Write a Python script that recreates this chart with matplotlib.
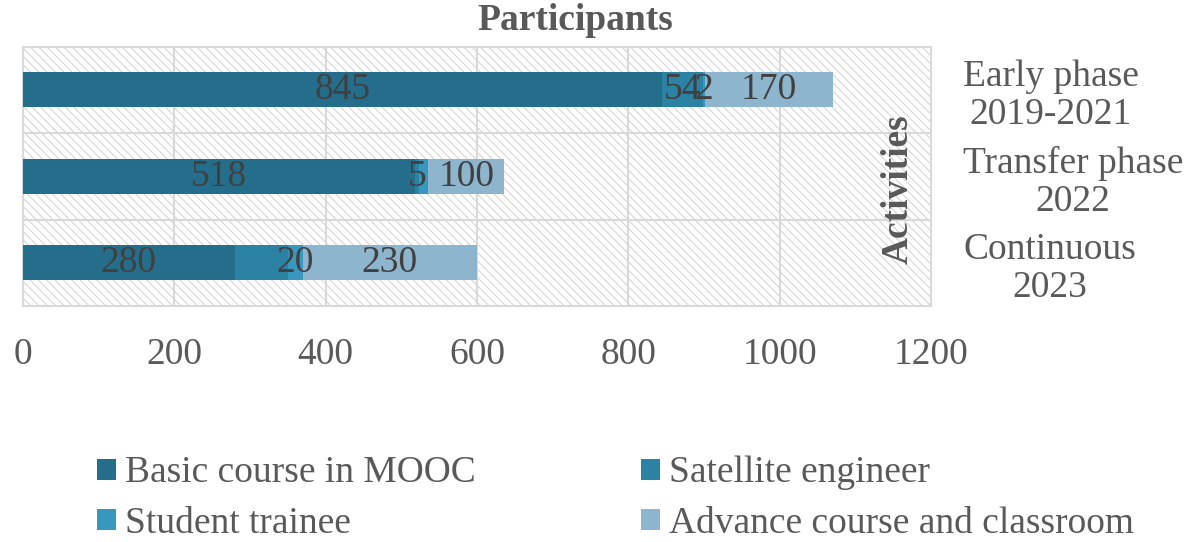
import matplotlib
matplotlib.use("Agg")
import matplotlib.pyplot as plt
from matplotlib.patches import Patch
import numpy as np

# participants per activity phase
phases = ["Early phase\n2019-2021", "Transfer phase\n2022", "Continuous\n2023"]
series_names = ["Basic course in MOOC", "Satellite engineer",
                "Student trainee", "Advance course and classroom"]
basic_mooc = [845, 518, 280]
satellite_eng = [54, 5, 70]
student_trainee = [2, 13, 20]
advance_course = [170, 100, 230]
# which segments carry a value label
show_label = [[True, True, True],
              [True, True, False],
              [True, False, True],
              [True, True, True]]
x_ticks = [0, 200, 400, 600, 800, 1000, 1200]

colors = ["#256E8B", "#2C82A3", "#3797BE", "#8DB5CE"]
text_grey = "#595959"
grid_grey = "#D9D9D9"

plt.rcParams["font.family"] = ["Liberation Serif", "DejaVu Serif"]
plt.rcParams["hatch.color"] = "#D0D0D0"
plt.rcParams["hatch.linewidth"] = 0.7

fig = plt.figure(figsize=(11.89, 5.42), dpi=100)
ax = fig.add_axes([0.0191, 0.4354, 0.7640, 0.4788])

# hatched plot area
ax.patch.set_facecolor("white")
ax.patch.set_hatch("\\\\\\\\")
ax.patch.set_edgecolor("#D0D0D0")

ypos = np.arange(len(phases))[::-1]
series = [basic_mooc, satellite_eng, student_trainee, advance_course]
left = np.zeros(len(phases))
for vals, col, flags in zip(series, colors, show_label):
    vals = np.array(vals, dtype=float)
    ax.barh(ypos, vals, left=left, height=0.4, color=col, zorder=3)
    for y, l, v, f in zip(ypos, left, vals, flags):
        if f:
            ax.text(l + v / 2, y, "%d" % v, ha="center", va="center",
                    fontsize=27, color="#404040", zorder=4)
    left += vals

ax.set_xlim(0, 1200)
ax.set_ylim(-0.5, 2.5)
ax.set_xticks(x_ticks)
ax.set_xticklabels([str(t) for t in x_ticks])
ax.grid(axis="x", color=grid_grey, linewidth=1.5, zorder=1)
for yb in [0.5, 1.5]:
    ax.axhline(yb, color=grid_grey, linewidth=1.5, zorder=1)
for s in ax.spines.values():
    s.set_color(grid_grey)
    s.set_linewidth(1.5)

ax.tick_params(axis="x", length=0, pad=23, labelsize=27, labelcolor=text_grey)
ax.yaxis.tick_right()
ax.set_yticks(ypos)
ax.set_yticklabels(phases, ha="left", multialignment="center")
ax.tick_params(axis="y", length=0, pad=23, labelsize=27, labelcolor=text_grey)
for lbl in ax.get_yticklabels():
    lbl.set_linespacing(1.15)

fig.text(575 / 1189, 1 - 21 / 542, "Participants", ha="center", va="center",
         fontsize=27, fontweight="bold", color=text_grey)
fig.text(898 / 1189, 1 - 189 / 542, "Activities", ha="center", va="center",
         rotation=90, fontsize=27, fontweight="bold", color=text_grey)

# legend fills by column, so order entries to read across rows
order = [0, 2, 1, 3]
handles = [Patch(facecolor=colors[i], edgecolor="none") for i in order]
labels = [series_names[i] for i in order]
fig.legend(handles, labels, loc="upper left",
           bbox_to_anchor=(97 / 1189, 1 - 456 / 542), ncol=2, frameon=False,
           fontsize=27, labelcolor=text_grey, handlelength=0.5,
           handleheight=0.5, handletextpad=0.25, columnspacing=4.4,
           labelspacing=0.42, borderpad=0, borderaxespad=0)

fig.savefig("out.png", dpi=100)
